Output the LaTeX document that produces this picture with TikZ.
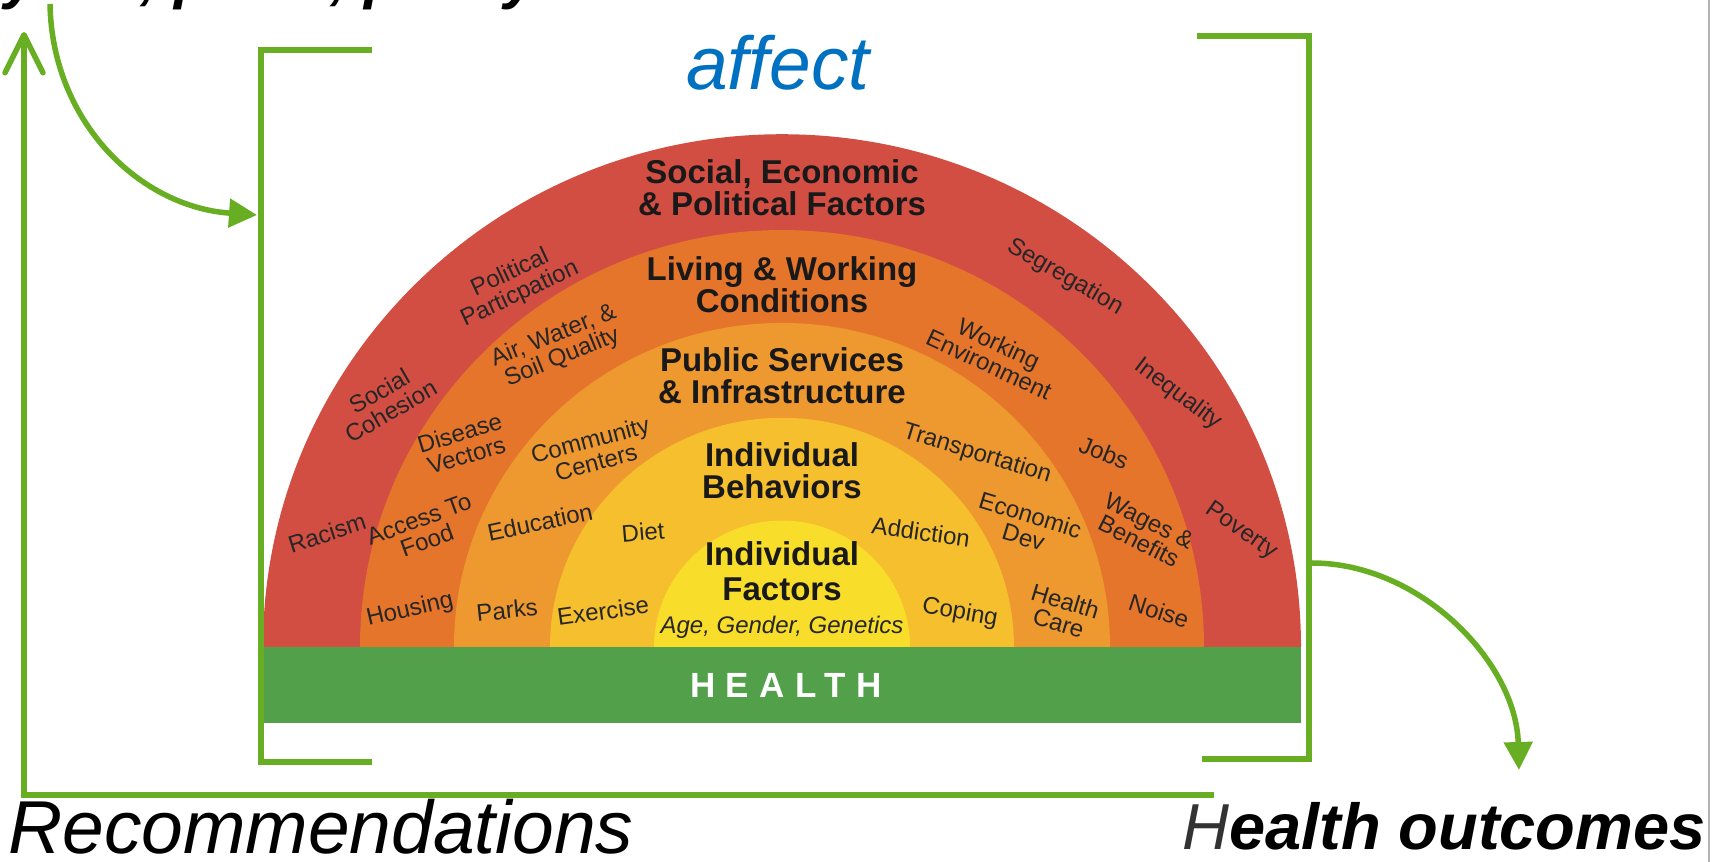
\documentclass[tikz,border=0pt]{standalone}
\usepackage{fontspec}
\setmainfont{Liberation Sans}
\usetikzlibrary{arrows.meta}
\definecolor{ringA}{RGB}{210,78,67}
\definecolor{ringB}{RGB}{230,117,44}
\definecolor{ringC}{RGB}{238,152,48}
\definecolor{ringD}{RGB}{245,191,45}
\definecolor{ringE}{RGB}{248,222,42}
\definecolor{healthgreen}{RGB}{82,160,74}
\definecolor{linkgreen}{RGB}{104,174,34}
\definecolor{affectblue}{RGB}{0,112,192}
\begin{document}
\begin{tikzpicture}[x=1pt, y=1pt,
	link/.style={draw=linkgreen, line width=5.5pt},
	head/.style={inner sep=0, align=center, text=black!90, font=\fontsize{33}{32}\selectfont\bfseries},
	minor/.style={inner sep=0, align=center, text=black!85, font=\fontsize{24}{23}\selectfont},
	big/.style={inner sep=0, text depth=0pt, font=\fontsize{75}{80}\selectfont\itshape}]
	\useasboundingbox (0,0) rectangle (1725,862);
	\clip (0,0) rectangle (1725,862);
	\draw[black!30, line width=2pt] (1709,0) -- (1709,862);
	\coordinate (hub) at (782,215);
	\foreach \r/\c in {519/ringA,422/ringB,328/ringC,232/ringD,128/ringE}
		\fill[\c] (hub) ++(-\r,0) arc[start angle=180, end angle=0, x radius=\r, y radius=0.988*\r] -- cycle;
	\fill[healthgreen] (264,139) rectangle (1301,215);
	\node[inner sep=0, text=white, font=\fontsize{35}{36}\selectfont\bfseries\addfontfeatures{LetterSpace=30}] (health) at (786,177) {HEALTH};
	\node[head] (sepf) at (782,674) {Social, Economic\\\& Political Factors};
	\node[head] (lwc) at (782,577) {Living \& Working\\Conditions};
	\node[head] (psi) at (782,486) {Public Services\\\& Infrastructure};
	\node[head] (behav) at (782,391) {Individual\\Behaviors};
	\node[head, font=\fontsize{33}{35}\selectfont\bfseries] (factors) at (782,291) {Individual\\Factors};
	\node[minor, font=\fontsize{24}{22}\selectfont\itshape] (agg) at (782,235) {Age, Gender, Genetics};
	\node[minor, rotate=25] (polpart) at (515,578) {Political\\Particpation};
	\node[minor, rotate=30] (cohesion) at (385,461) {Social\\Cohesion};
	\node[minor, rotate=18] (racism) at (327,329) {Racism};
	\node[minor, rotate=-30] (segreg) at (1065,585) {Segregation};
	\node[minor, rotate=-37] (inequal) at (1178,468) {Inequality};
	\node[minor, rotate=-35] (poverty) at (1241,331) {Poverty};
	\node[minor, rotate=22] (airwater) at (558,515) {Air, Water, \&\\Soil Quality};
	\node[minor, rotate=17] (vectors) at (463,418) {Disease\\Vectors};
	\node[minor, rotate=20] (food) at (423,332) {Access To\\Food};
	\node[minor, rotate=13] (housing) at (410,252) {Housing};
	\node[minor, rotate=-25] (workenv) at (994,508) {Working\\Environment};
	\node[minor, rotate=-22] (jobs) at (1104,409) {Jobs};
	\node[minor, rotate=-27] (wages) at (1144,331) {Wages \&\\Benefits};
	\node[minor, rotate=-18] (noise) at (1159,251) {Noise};
	\node[minor, rotate=15] (centers) at (593,411) {Community\\Centers};
	\node[minor, rotate=12] (educ) at (540,340) {Education};
	\node[minor, rotate=6] (parks) at (507,252) {Parks};
	\node[minor, rotate=-17] (transport) at (977,408) {Transportation};
	\node[minor, rotate=-17] (econdev) at (1027,336) {Economic\\Dev};
	\node[minor, rotate=-17] (hcare) at (1062,250) {Health\\Care};
	\node[minor, rotate=5] (diet) at (643,330) {Diet};
	\node[minor, rotate=8] (exercise) at (603,251) {Exercise};
	\node[minor, rotate=-8] (addict) at (921,330) {Addiction};
	\node[minor, rotate=-10] (coping) at (960,249) {Coping};
	\draw[link] (372,812) -- (261,812) -- (261,100) -- (372,100);
	\draw[link] (1197,826) -- (1309,826) -- (1309,103) -- (1202,103);
	\node[big, text=affectblue, anchor=base] (affect) at (778,772) {affect};
	\node[big, anchor=base west] (recs) at (8,8) {Recommendations};
	\node[big, font=\fontsize{65}{70}\selectfont\bfseries\itshape, anchor=base east] (outcomes) at (1706,12) {{\mdseries\color{black!80}H}ealth outcomes};
	\node[big, font=\fontsize{60}{64}\selectfont\bfseries\itshape, anchor=base west] (plans) at (-126,864) {Analytics, plans, policy};
	\coordinate (fbEnd) at (1214,67);
	\coordinate (fbCorner) at (24,67);
	\coordinate (fbTip) at (24,830);
	\draw[link, -{Straight Barb[length=38pt, width=38pt, round]}] (fbEnd) -- (fbCorner) -- (fbTip);
	\coordinate (topSrc) at (50,858);
	\coordinate (brL) at (257,647);
	\draw[link, -{Triangle[length=28pt, width=28pt]}] (topSrc) .. controls (52,740) and (140,655) .. (brL);
	\coordinate (brR) at (1312,299);
	\coordinate (outTip) at (1519,92);
	\draw[link, -{Triangle[length=28pt, width=28pt]}] (brR) .. controls (1420,299) and (1516,200) .. (outTip);
\end{tikzpicture}
\end{document}
